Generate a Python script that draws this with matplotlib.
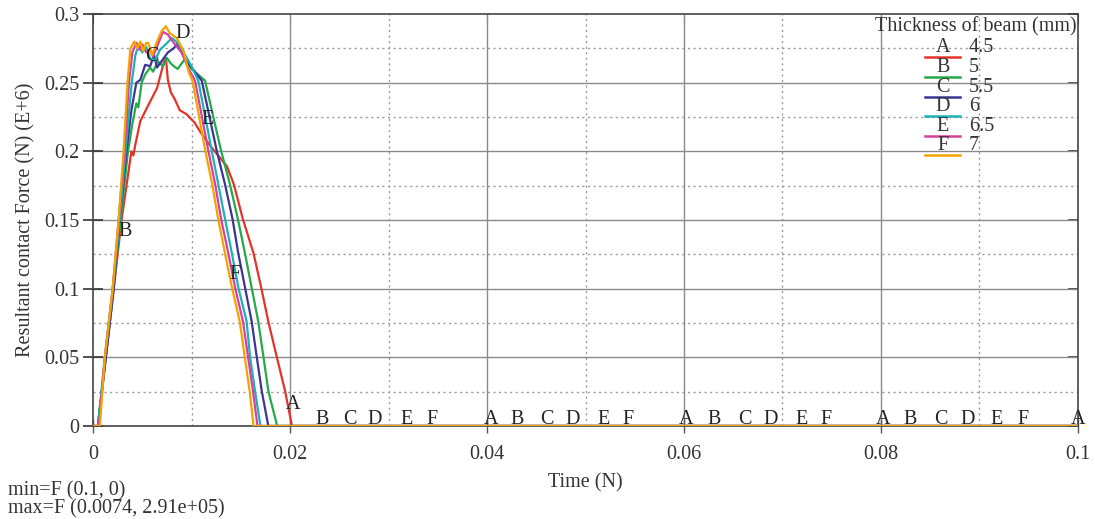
import numpy as np
import matplotlib
matplotlib.use("Agg")
import matplotlib.pyplot as plt
from matplotlib.lines import Line2D

plt.rcParams['font.family'] = ['Liberation Serif', 'DejaVu Serif']

# ---------------- data ----------------
series_letters = ["A", "B", "C", "D", "E", "F"]
series_names = ["4.5", "5", "5.5", "6", "6.5", "7"]
series_colors = ["#e4342a", "#25a94b", "#3b3596", "#1bb2b6", "#d8409f", "#f5a300"]

t_A = [0, 0.0005, 0.0013, 0.0021, 0.0029, 0.0037, 0.0039, 0.0041, 0.0043, 0.0048, 0.0055, 0.0065,
       0.0072, 0.0074, 0.0076, 0.0079, 0.0083, 0.0088, 0.0095, 0.0103, 0.0110, 0.0118, 0.0127, 0.0136,
       0.0143, 0.0152, 0.0163, 0.0171, 0.0178, 0.01865, 0.0195, 0.0202, 0.1]
f_A = [0, 0, 0.05, 0.10, 0.15, 0.19, 0.20, 0.197, 0.205, 0.222, 0.232, 0.246,
       0.265, 0.268, 0.252, 0.243, 0.238, 0.230, 0.227, 0.221, 0.213, 0.205, 0.197, 0.189,
       0.176, 0.151, 0.1257, 0.100, 0.076, 0.0505, 0.0255, 0, 0]

t_B = [0, 0.0005, 0.0013, 0.0021, 0.0028, 0.00355, 0.0040, 0.0044, 0.0046, 0.00494, 0.0053, 0.0058,
       0.0061, 0.0066, 0.0071, 0.0075, 0.0079, 0.0082, 0.0086, 0.0090, 0.0093, 0.0100, 0.01137,
       0.0130, 0.0139, 0.0147, 0.01543, 0.0161, 0.01678, 0.0173, 0.0178, 0.0187, 0.1]
f_B = [0, 0, 0.05, 0.10, 0.15, 0.20, 0.22, 0.235, 0.232, 0.25, 0.256, 0.261,
       0.258, 0.2655, 0.262, 0.268, 0.264, 0.262, 0.260, 0.264, 0.267, 0.260, 0.2515,
       0.2005, 0.176, 0.151, 0.1257, 0.101, 0.076, 0.0505, 0.0255, 0, 0]

t_C = [0, 0.0005, 0.0013, 0.0021, 0.0027, 0.0034, 0.0039, 0.0044, 0.0048, 0.0053, 0.0058, 0.0062,
       0.0065, 0.0070, 0.0076, 0.0082, 0.0085, 0.0090, 0.0097, 0.01104, 0.01256, 0.0134, 0.01416,
       0.01475, 0.01543, 0.01611, 0.01662, 0.01713, 0.0178, 0.1]
f_C = [0, 0, 0.05, 0.10, 0.15, 0.20, 0.23, 0.25, 0.252, 0.263, 0.262, 0.270,
       0.261, 0.266, 0.272, 0.275, 0.278, 0.272, 0.264, 0.2515, 0.2005, 0.176, 0.151,
       0.1257, 0.101, 0.076, 0.0505, 0.0255, 0, 0]

t_D = [0, 0.0005, 0.0012, 0.0020, 0.0027, 0.0033, 0.00393, 0.0043, 0.0046, 0.0050, 0.0054, 0.0058,
       0.0063, 0.0068, 0.0074, 0.0080, 0.0086, 0.0092, 0.0100, 0.01069, 0.01205, 0.01272, 0.0134,
       0.0141, 0.01475, 0.0156, 0.01594, 0.01645, 0.0170, 0.1]
f_D = [0, 0, 0.05, 0.10, 0.15, 0.20, 0.25, 0.27, 0.277, 0.272, 0.276, 0.268,
       0.266, 0.274, 0.278, 0.2825, 0.279, 0.272, 0.262, 0.2515, 0.2005, 0.176, 0.151,
       0.1257, 0.101, 0.076, 0.0505, 0.0255, 0, 0]

t_E = [0, 0.0006, 0.0012, 0.0020, 0.0026, 0.0032, 0.00365, 0.0040, 0.0044, 0.0047, 0.0050, 0.0054,
       0.0058, 0.0061, 0.0066, 0.0071, 0.0076, 0.0082, 0.0090, 0.0097, 0.01036, 0.01171, 0.0124,
       0.0130, 0.01374, 0.01442, 0.01523, 0.01574, 0.01624, 0.0167, 0.1]
f_E = [0, 0, 0.05, 0.10, 0.15, 0.20, 0.25, 0.272, 0.279, 0.274, 0.278, 0.272,
       0.274, 0.269, 0.278, 0.287, 0.285, 0.279, 0.272, 0.260, 0.2515, 0.2005, 0.176,
       0.151, 0.1257, 0.101, 0.076, 0.0505, 0.0255, 0, 0]

t_F = [0, 0.0007, 0.0012, 0.0020, 0.0026, 0.0031, 0.0035, 0.0038, 0.0042, 0.0045, 0.0048, 0.0051,
       0.0054, 0.0056, 0.0060, 0.0065, 0.0070, 0.0074, 0.0078, 0.0085, 0.0092, 0.0097, 0.0101,
       0.0114, 0.0121, 0.0127, 0.0134, 0.0141, 0.0149, 0.0154, 0.0159, 0.0163, 0.1]
f_F = [0, 0, 0.05, 0.10, 0.15, 0.20, 0.25, 0.275, 0.280, 0.275, 0.280, 0.273,
       0.279, 0.279, 0.270, 0.280, 0.288, 0.291, 0.286, 0.2825, 0.273, 0.258, 0.2515,
       0.2005, 0.176, 0.151, 0.1257, 0.101, 0.076, 0.0505, 0.0255, 0, 0]

series_t = [t_A, t_B, t_C, t_D, t_E, t_F]
series_f = [f_A, f_B, f_C, f_D, f_E, f_F]

# curve labels (letter, time, force at letter baseline)
label_letters = ["B", "C", "D", "E", "F", "A",
                 "B", "C", "D", "E", "F", "A",
                 "B", "C", "D", "E", "F", "A",
                 "B", "C", "D", "E", "F", "A",
                 "B", "C", "D", "E", "F", "A"]
label_t = [0.00325, 0.00602, 0.0091, 0.01168, 0.01442, 0.0203,
           0.02325, 0.0261, 0.0286, 0.0318, 0.0344, 0.0404,
           0.0431, 0.0461, 0.0487, 0.0518, 0.0543, 0.0602,
           0.0631, 0.0662, 0.0688, 0.0719, 0.0744, 0.0802,
           0.0830, 0.0861, 0.0888, 0.0917, 0.0944, 0.1000]
label_f = [0.1383, 0.2658, 0.2825, 0.2199, 0.1070, 0.0124] + [0.0012] * 24

x_ticks = [0, 0.02, 0.04, 0.06, 0.08, 0.1]
x_tick_labels = ["0", "0.02", "0.04", "0.06", "0.08", "0.1"]
y_ticks = [0, 0.05, 0.1, 0.15, 0.2, 0.25, 0.3]
y_tick_labels = ["0", "0.05", "0.1", "0.15", "0.2", "0.25", "0.3"]

min_text = "min=F (0.1, 0)"
max_text = "max=F (0.0074, 2.91e+05)"

# ---------------- figure ----------------
W, H = 1095, 519
fig = plt.figure(figsize=(W / 100, H / 100), dpi=100)
ax = fig.add_axes([93 / W, (519 - 426) / H, (1078 - 93) / W, (426 - 14) / H])

txt_col = "#333333"
fs = 14.5

ax.set_xlim(0, 0.1)
ax.set_ylim(0, 0.3)

# grids
for xv in np.arange(0.01, 0.1, 0.02):
    ax.axvline(xv, color="#9a9a9a", lw=1.0, ls=(0, (1.5, 2.5)), zorder=1)
for yv in np.arange(0.025, 0.3, 0.05):
    ax.axhline(yv, color="#9a9a9a", lw=1.0, ls=(0, (1.5, 2.5)), zorder=1)
for xv in x_ticks[1:-1]:
    ax.axvline(xv, color="#8a8a8a", lw=1.0, zorder=1)
for yv in y_ticks[1:-1]:
    ax.axhline(yv, color="#8a8a8a", lw=1.0, zorder=1)

for t, f, c in zip(series_t, series_f, series_colors):
    ax.plot(t, f, color=c, lw=1.6, zorder=3, solid_joinstyle="round")

for L, t, f in zip(label_letters, label_t, label_f):
    ax.text(t, f, L, ha="center", va="baseline", fontsize=fs, color="#222222", zorder=4)

ax.set_xticks(x_ticks)
ax.set_xticklabels(x_tick_labels)
ax.set_yticks(y_ticks)
ax.set_yticklabels(y_tick_labels)
ax.tick_params(axis="y", direction="inout", length=14, width=1.2, color="#333333",
               labelsize=fs, labelcolor=txt_col, pad=3)
ax.tick_params(axis="x", direction="inout", length=10, width=1.0, color="#555555",
               labelsize=fs, labelcolor=txt_col, pad=9)
for s in ax.spines.values():
    s.set_color("#444444")
    s.set_linewidth(1.2)

secx = ax.secondary_xaxis("top")
secx.set_xticks(x_ticks)
secx.tick_params(direction="in", length=7, labeltop=False, color="#555555")
secx.spines["top"].set_visible(False)
secy = ax.secondary_yaxis("right")
secy.set_yticks(y_ticks)
secy.tick_params(direction="in", length=7, labelright=False, color="#333333", width=1.2)
secy.spines["right"].set_visible(False)

ax.set_xlabel("Time (N)", fontsize=fs, color=txt_col, labelpad=6)
ax.set_ylabel("Resultant contact Force (N) (E+6)", fontsize=fs, color=txt_col, labelpad=6)

fig.text(8 / W, 1 - 500 / H, min_text + "\n" + max_text, fontsize=fs, color=txt_col,
         ha="left", va="center", linespacing=0.95)

# legend drawn manually in axes coordinates
ax.text(0.999, (426 - 27) / 412, "Thickness of beam (mm)", transform=ax.transAxes,
        ha="right", va="center", fontsize=fs, color=txt_col, zorder=5)
row0 = 48
step = 19.6
for i, (L, name, c) in enumerate(zip(series_letters, series_names, series_colors)):
    yc = row0 + i * step
    ax.text((943 - 93) / 985, (426 - yc) / 412, L, transform=ax.transAxes,
            ha="center", va="center", fontsize=fs, color=txt_col, zorder=5)
    ax.text((969 - 93) / 985, (426 - yc) / 412, name, transform=ax.transAxes,
            ha="left", va="center", fontsize=fs, color=txt_col, zorder=5)
    yl = (426 - (yc + 9.3)) / 412
    ax.add_line(Line2D([(925 - 93) / 985, (960 - 93) / 985], [yl, yl], transform=ax.transAxes,
                       color=c, lw=1.8, zorder=5))

fig.savefig("out.png", dpi=100)
